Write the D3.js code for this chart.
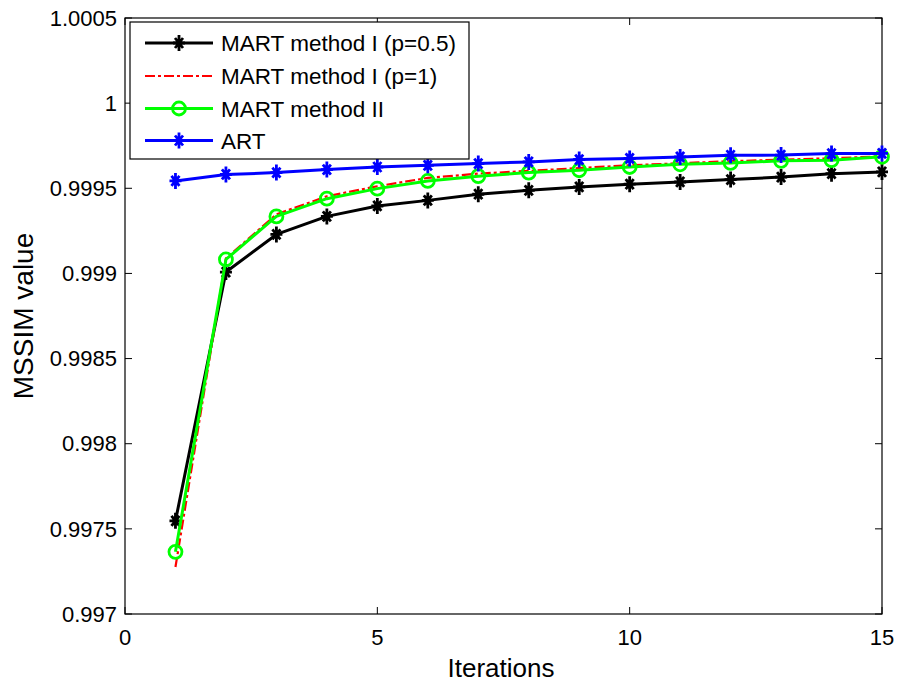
<!DOCTYPE html>
<html>
<head>
<meta charset="utf-8">
<script src="https://cdn.jsdelivr.net/npm/d3@7"></script>
<style>
  html, body { margin: 0; padding: 0; background: #fff; }
  svg { display: block; font-family: Arial, "Liberation Sans", sans-serif; }
</style>
</head>
<body>
<svg id="chart" width="897" height="684"></svg>
<script>
// ---- data ----
const iterations = [1,2,3,4,5,6,7,8,9,10,11,12,13,14,15];
const martP05 = [0.997547,0.999008,0.999229,0.999335,0.999396,0.999429,0.999465,0.999488,0.999508,0.999524,0.999537,0.999551,0.999566,0.999586,0.999596];
const martP1  = [0.997276,0.999088,0.999347,0.999453,0.999512,0.999561,0.999586,0.999602,0.999619,0.999635,0.999647,0.999659,0.999668,0.999676,0.999688];
const martII  = [0.997365,0.999082,0.999335,0.999439,0.999498,0.999543,0.999571,0.999592,0.999606,0.999625,0.999641,0.999649,0.999661,0.999665,0.999685];
const art     = [0.999543,0.999581,0.999592,0.999610,0.999625,0.999635,0.999645,0.999655,0.999669,0.999675,0.999684,0.999694,0.999695,0.999704,0.999705];
const xTicks = [0,5,10,15];
const yTicks = [0.997,0.9975,0.998,0.9985,0.999,0.9995,1,1.0005];
const yTickLabels = ["0.997","0.9975","0.998","0.9985","0.999","0.9995","1","1.0005"];
const seriesNames = ["MART method I (p=0.5)","MART method I (p=1)","MART method II","ART"];

const series = [
  {name: seriesNames[0], values: martP05, color: "#000000", dash: null, marker: "star"},
  {name: seriesNames[1], values: martP1,  color: "#ff0000", dash: "10,3,3,3", marker: null},
  {name: seriesNames[2], values: martII,  color: "#00ff00", dash: null, marker: "circle"},
  {name: seriesNames[3], values: art,     color: "#0000ff", dash: null, marker: "star"}
];

// ---- layout ----
const L = 125, R = 882, T = 18, B = 614;
const svg = d3.select("#chart");
const x = d3.scaleLinear().domain([0,15]).range([L,R]);
const y = d3.scaleLinear().domain([0.997,1.0005]).range([B,T]);

// box
svg.append("rect").attr("x",L).attr("y",T).attr("width",R-L).attr("height",B-T)
  .attr("fill","#fff").attr("stroke","#000").attr("stroke-width",1.2);

// ticks (inside, all four sides)
const tl = 7;
const g = svg.append("g").attr("stroke","#000").attr("stroke-width",1);
xTicks.forEach(t => {
  g.append("line").attr("x1",x(t)).attr("x2",x(t)).attr("y1",B).attr("y2",B-tl);
  g.append("line").attr("x1",x(t)).attr("x2",x(t)).attr("y1",T).attr("y2",T+tl);
});
yTicks.forEach(t => {
  g.append("line").attr("x1",L).attr("x2",L+tl).attr("y1",y(t)).attr("y2",y(t));
  g.append("line").attr("x1",R).attr("x2",R-tl).attr("y1",y(t)).attr("y2",y(t));
});

// tick labels
svg.append("g").selectAll("text").data(xTicks).join("text")
  .attr("x", d => x(d)).attr("y", 645).attr("text-anchor","middle")
  .attr("font-size",22).attr("fill","#000").text(d => d);
svg.append("g").selectAll("text").data(yTicks).join("text")
  .attr("x", 117).attr("y", d => y(d)).attr("dy","0.35em").attr("text-anchor","end")
  .attr("font-size",22).attr("fill","#000").text((d,i) => yTickLabels[i]);

// axis titles
svg.append("text").attr("x",501).attr("y",677).attr("text-anchor","middle")
  .attr("font-size",26).attr("fill","#000").text("Iterations");
svg.append("text").attr("transform","translate(33,316) rotate(-90)").attr("text-anchor","middle")
  .attr("font-size",28).attr("fill","#000").text("MSSIM value");

// markers
const starPath = "M0,-8V8M-6,0H6M-4,-5L4,5M-4,5L4,-5";
const diamondPath = "M0,-6L3.5,0L0,6L-3.5,0Z";
function drawMarker(sel, type, color, cx, cy) {
  if (type === "star") {
    sel.append("path").attr("d", starPath).attr("transform",`translate(${cx},${cy})`)
      .attr("stroke", color).attr("stroke-width", 2.8).attr("fill","none");
    sel.append("path").attr("d", diamondPath).attr("transform",`translate(${cx},${cy})`)
      .attr("fill", color);
  } else if (type === "circle") {
    sel.append("circle").attr("cx",cx).attr("cy",cy).attr("r",6.5)
      .attr("stroke", color).attr("stroke-width", 2.8).attr("fill","none");
  }
}

// lines
const line = d3.line().x((d,i) => x(iterations[i])).y(d => y(d));
const plot = svg.append("g");
series.forEach(s => {
  const gs = plot.append("g");
  gs.append("path").attr("d", line(s.values)).attr("fill","none")
    .attr("stroke", s.color).attr("stroke-width", s.dash ? 2.2 : 3)
    .attr("stroke-dasharray", s.dash).attr("stroke-linejoin","round");
  if (s.marker) s.values.forEach((v,i) => drawMarker(gs, s.marker, s.color, x(iterations[i]), y(v)));
});

// legend
const lg = svg.append("g");
lg.append("rect").attr("x",130).attr("y",22).attr("width",339).attr("height",137)
  .attr("fill","#fff").attr("stroke","#000").attr("stroke-width",1.2);
const rowsY = [43, 76, 108.5, 140.5];
series.forEach((s,i) => {
  const yy = rowsY[i];
  lg.append("line").attr("x1",145).attr("x2",213).attr("y1",yy).attr("y2",yy)
    .attr("stroke", s.color).attr("stroke-width", s.dash ? 2.2 : 3)
    .attr("stroke-dasharray", s.dash);
  if (s.marker) drawMarker(lg, s.marker, s.color, 179, yy);
  lg.append("text").attr("x",221).attr("y",yy).attr("dy","0.36em")
    .attr("font-size",22.5).attr("fill","#000").text(s.name);
});
</script>
</body>
</html>
